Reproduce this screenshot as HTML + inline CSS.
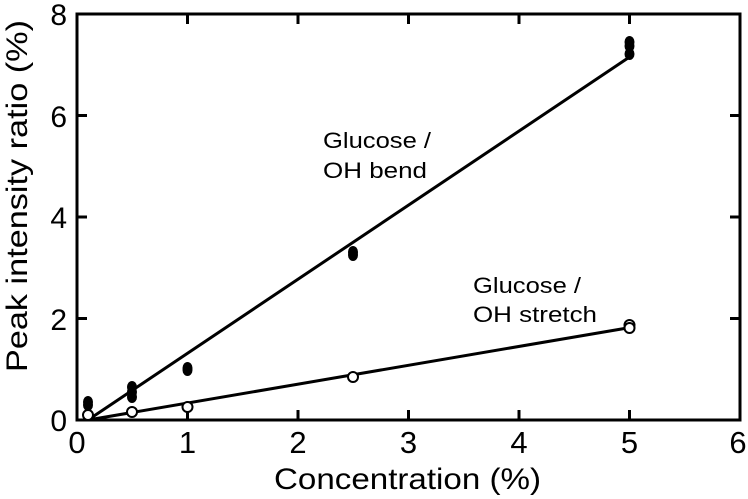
<!DOCTYPE html><html><head><style>body{margin:0;background:#fff}svg{display:block}text{font-family:"Liberation Sans",sans-serif;fill:#000}</style></head><body>
<svg width="748" height="499" viewBox="0 0 748 499">
<g stroke="#000" stroke-width="3" fill="none">
<rect x="77" y="14" width="663" height="406"/>
<path d="M187.5 420v-10M298 420v-10M408.5 420v-10M519 420v-10M629.5 420v-10M187.5 14v10M298 14v10M408.5 14v10M519 14v10M629.5 14v10M77 318.5h10M77 217h10M77 115.5h10M740 318.5h-10M740 217h-10M740 115.5h-10"/>
<path d="M88 420L629.5 57M88 420L629.5 327.6"/>
</g>
<g fill="#000">
<ellipse cx="88" cy="402" rx="5" ry="6"/><ellipse cx="88" cy="405" rx="5" ry="6"/>
<ellipse cx="132" cy="387" rx="5" ry="6"/><ellipse cx="132" cy="392" rx="5" ry="6"/><ellipse cx="132" cy="397" rx="5" ry="6"/>
<ellipse cx="187.5" cy="368" rx="5" ry="6"/><ellipse cx="187.5" cy="370" rx="5" ry="6"/>
<ellipse cx="353" cy="252" rx="5" ry="6"/><ellipse cx="353" cy="255" rx="5" ry="6"/>
<ellipse cx="629.5" cy="42" rx="5" ry="6"/><ellipse cx="629.5" cy="46" rx="5" ry="6"/><ellipse cx="629.5" cy="54" rx="5" ry="6"/>
</g>
<g fill="#fff" stroke="#000" stroke-width="2">
<ellipse cx="88" cy="415" rx="5" ry="5"/><ellipse cx="132" cy="412" rx="5" ry="5"/>
<ellipse cx="187.5" cy="407" rx="5" ry="5"/><ellipse cx="353" cy="377" rx="5" ry="5"/>
<ellipse cx="629.5" cy="325" rx="5" ry="5"/><ellipse cx="629.5" cy="328" rx="5" ry="5"/>
</g>
<g font-size="31" text-anchor="middle">
<text x="77" y="453">0</text><text x="187.5" y="453">1</text><text x="298" y="453">2</text><text x="408.5" y="453">3</text><text x="519" y="453">4</text><text x="629.5" y="453">5</text><text x="738" y="453">6</text>
</g>
<g font-size="30" text-anchor="end">
<text x="67" y="431">0</text><text x="67" y="330">2</text><text x="67" y="228">4</text><text x="67" y="127">6</text><text x="67" y="25">8</text>
</g>
<text x="274" y="489" font-size="30" textLength="267" lengthAdjust="spacingAndGlyphs">Concentration (%)</text>
<text transform="translate(27 372) rotate(-90)" font-size="30" textLength="352" lengthAdjust="spacingAndGlyphs">Peak intensity ratio (%)</text>
<g font-size="22"><text x="323" y="148" textLength="108" lengthAdjust="spacingAndGlyphs">Glucose /</text><text x="323" y="178" textLength="104" lengthAdjust="spacingAndGlyphs">OH bend</text>
<text x="473" y="293" textLength="108" lengthAdjust="spacingAndGlyphs">Glucose /</text><text x="473" y="322" textLength="124" lengthAdjust="spacingAndGlyphs">OH stretch</text></g>
</svg></body></html>
